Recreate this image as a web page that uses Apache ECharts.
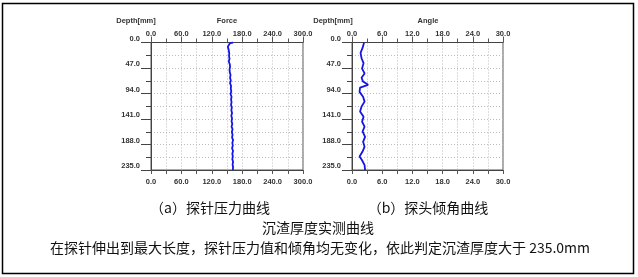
<!DOCTYPE html>
<html><head><meta charset="utf-8">
<script src="https://cdn.jsdelivr.net/npm/echarts@6/dist/echarts.min.js"></script>
<style>html,body{margin:0;padding:0;background:#fff}#c{width:638px;height:277px}</style>
</head><body><div id="c"></div>
<script>
// ---- data ----
const forceDepth = [0,1,3,8,12,15,20,25,30,35,40,45,50,55,60,65,70,75,80,85,90,95,100,105,110,115,120,125,130,135,140,145,150,155,160,165,170,175,180,185,190,195,200,205,210,215,220,225,230,235];
const forceValues = [162,156,153,151.5,153,152.5,154.5,154,155,153.5,155.5,156,155,155.5,157,156,157.5,156,158,157.5,158.5,157,159,158,159,158,159.5,158.5,160,158.5,160,159,160.5,159,161,159.5,161,160,162,160.5,161.5,160,162,160.5,161.5,160.5,162,161,162,161.5];
const angleDepth = [0,2,10,19,29,38,48,57,65,72,78,83,91,100,109,118,127,137,146,155,164,174,183,192,201,210,217,226,235];
const angleValues = [2.4,2.3,2.1,1.7,1.9,2.3,2.0,2.5,1.9,2.2,3.2,1.6,1.5,2.2,2.5,1.9,1.6,2.3,2.0,2.5,2.1,2.6,2.2,2.5,2.1,1.5,2.0,2.5,2.6];
const forceTicks = {min: 0, max: 300, interval: 60};
const angleTicks = {min: 0, max: 30, interval: 6};
const depthTicks = {min: 0, max: 235, interval: 47};
const titles = {depth: 'Depth[mm]', force: 'Force', angle: 'Angle'};
const captionA = '（a）探针压力曲线';
const captionB = '（b）探头倾角曲线';
const captionMain = '沉渣厚度实测曲线';
const conclusion = '在探针伸出到最大长度，探针压力值和倾角均无变化，依此判定沉渣厚度大于 235.0mm';

// ---- chart ----
const chart = echarts.init(document.getElementById('c'), null, {renderer: 'canvas'});
const small = {fontFamily: 'Liberation Sans, Arial, sans-serif', fontSize: 7.5, fontWeight: 'bold', color: '#333'};
const cjk = {fontFamily: '"Noto Sans CJK SC", sans-serif', fontSize: 14, fill: '#111'};
const grids = [
  {left: 151, top: 42.5, width: 152, height: 127.5, show: true, borderColor: '#555', borderWidth: 1},
  {left: 352, top: 42.5, width: 151, height: 127.5, show: true, borderColor: '#555', borderWidth: 1}
];
function xAx(gi, t, pos) {
  return {
    type: 'value', gridIndex: gi, position: pos, min: t.min, max: t.max, interval: t.interval,
    axisLine: {show: true, onZero: false, lineStyle: {color: '#444', width: 1}},
    axisTick: {show: true, length: pos === 'top' ? 6 : 4, lineStyle: {color: '#555'}},
    minorTick: {show: true, splitNumber: 2, length: 4, lineStyle: {color: '#555'}},
    axisLabel: Object.assign({margin: pos === 'top' ? 5 : 8, formatter: v => v.toFixed(1)}, small),
    splitLine: {show: pos === 'top', lineStyle: {color: '#bbb', type: [1, 2], width: 1}},
    minorSplitLine: {show: pos === 'top', lineStyle: {color: '#bbb', type: [1, 2], width: 1}}
  };
}
function yAx(gi) {
  return {
    type: 'value', gridIndex: gi, inverse: true, min: depthTicks.min, max: depthTicks.max, interval: depthTicks.interval,
    axisLine: {show: true, lineStyle: {color: '#444', width: 1}},
    axisTick: {show: true, length: 10, lineStyle: {color: '#444'}},
    minorTick: {show: true, splitNumber: 2, length: 5, lineStyle: {color: '#444'}},
    axisLabel: Object.assign({margin: 11, verticalAlign: 'bottom', formatter: v => v.toFixed(1)}, small),
    splitLine: {show: true, lineStyle: {color: '#bbb', type: [1, 2], width: 1}},
    minorSplitLine: {show: true, lineStyle: {color: '#bbb', type: [1, 2], width: 1}}
  };
}
function txt(x, y, s, style, align) {
  return {type: 'text', x: x, y: y, style: Object.assign({text: s, textAlign: align || 'center', textVerticalAlign: 'middle'}, style)};
}
const smallG = {font: 'bold 7.5px "Liberation Sans", Arial, sans-serif', fill: '#333'};
chart.setOption({
  animation: false,
  grid: grids,
  xAxis: [xAx(0, forceTicks, 'top'), xAx(0, forceTicks, 'bottom'), xAx(1, angleTicks, 'top'), xAx(1, angleTicks, 'bottom')],
  yAxis: [yAx(0), yAx(1)],
  series: [
    {type: 'line', xAxisIndex: 0, yAxisIndex: 0, showSymbol: false, lineStyle: {color: '#1515e6', width: 1.8},
     data: forceDepth.map((d, i) => [forceValues[i], d])},
    {type: 'line', xAxisIndex: 2, yAxisIndex: 1, showSymbol: false, lineStyle: {color: '#1515e6', width: 1.8},
     data: angleDepth.map((d, i) => [angleValues[i], d])}
  ],
  graphic: [
    {type: 'rect', shape: {x: 2.5, y: 3.5, width: 631, height: 270}, style: {fill: 'none', stroke: '#000', lineWidth: 1.5}, silent: true},
    txt(136, 21, titles.depth, smallG),
    txt(227, 21, titles.force, smallG),
    txt(333, 21, titles.depth, smallG),
    txt(428, 21, titles.angle, smallG),
    txt(210, 208, captionA, cjk),
    txt(428, 208, captionB, cjk),
    txt(318, 228, captionMain, cjk),
    txt(50, 248, conclusion, cjk, 'left')
  ]
});
</script></body></html>
